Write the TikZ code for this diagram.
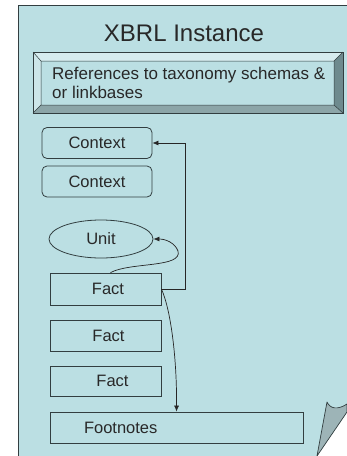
\documentclass[tikz,border=0pt]{standalone}
\usepackage{fontspec}
\setmainfont{Liberation Sans}
\usetikzlibrary{shapes.geometric,arrows.meta}
\definecolor{page}{RGB}{187,223,227}
\definecolor{edge}{RGB}{50,62,64}
\definecolor{ink}{RGB}{40,40,40}
\definecolor{bevtop}{RGB}{214,236,239}
\definecolor{bevleft}{RGB}{205,230,233}
\definecolor{bevbot}{RGB}{140,165,168}
\definecolor{bevright}{RGB}{110,138,142}
\definecolor{foldc}{RGB}{157,180,183}
\begin{document}
\begin{tikzpicture}[x=1pt,y=-1pt,
  box/.style={draw=edge, line width=0.8pt, fill=page, text=ink,
    font=\fontsize{16.5}{18}\selectfont, inner sep=0pt},
  conn/.style={draw=black!85, line width=0.7pt, -{Latex[length=6pt,width=5pt]}}]
\useasboundingbox (0,0) rectangle (347,456);
\fill[white] (0,0) rectangle (347,456);
% page
\fill[page] (18,5) -- (347,5) -- (347,412) -- (317,456) -- (18,456) -- cycle;
\draw[edge, line width=0.8pt] (18,456) -- (18,5) -- (347,5);
% fold
\filldraw[fill=foldc, draw=edge, line width=0.7pt, line join=round]
  (317,456) -- (327,402) .. controls (330,409) and (338,410) .. (347,404) -- (347,412) -- cycle;
% title
\node[text=ink, font=\fontsize{24}{28}\selectfont] (title) at (184,33) {XBRL Instance};
% bevel box
\fill[bevtop] (33,52) -- (343,52) -- (334,61) -- (41,61) -- cycle;
\fill[bevleft] (33,52) -- (41,61) -- (41,105) -- (33,113) -- cycle;
\fill[bevbot] (33,113) -- (343,113) -- (334,105) -- (41,105) -- cycle;
\fill[bevright] (343,52) -- (343,113) -- (334,105) -- (334,61) -- cycle;
\fill[page] (41,61) rectangle (334,105);
\draw[edge, line width=0.7pt] (33,52) rectangle (343,113);
\draw[edge, line width=0.5pt] (41,61) rectangle (334,105)
  (33,52) -- (41,61) (343,52) -- (334,61) (33,113) -- (41,105) (343,113) -- (334,105);
\node[text=ink, font=\fontsize{17}{19}\selectfont, align=left, anchor=north west, inner sep=0pt]
  (refs) at (52,66.5) {References to taxonomy schemas \&\\or linkbases};
% nodes
\node[box, rounded corners=5pt, minimum width=110pt, minimum height=31pt] (ctx1) at (97,143) {Context};
\node[box, rounded corners=5pt, minimum width=110pt, minimum height=31pt] (ctx2) at (97,181.5) {Context};
\node[box, ellipse, minimum width=104pt, minimum height=38pt] (unit) at (101,239) {Unit};
\node[box, minimum width=111pt, minimum height=32pt] (fact1) at (105.5,289) {\hspace*{5pt}Fact};
\node[box, minimum width=111pt, minimum height=31pt] (fact2) at (105.5,335.5) {\hspace*{6pt}Fact};
\node[box, minimum width=111pt, minimum height=30pt] (fact3) at (105.5,381) {\hspace*{14pt}Fact};
\node[box, minimum width=253pt, minimum height=31pt] (foot) at (176.5,427.5) {\makebox[253pt][l]{\hspace{34pt}Footnotes}};
% connectors
\draw[conn] (fact1.east) -- ++(24,0) |- (ctx1.east);
\draw[conn] ([xshift=5pt]fact1.north) .. controls (130,262) and (183,268) .. (178,251)
  .. controls (175,243) and (166,239) .. (unit.east);
\draw[conn] (fact1.east) .. controls (171,310) and (177,360) .. (foot.north);
\end{tikzpicture}
\end{document}
